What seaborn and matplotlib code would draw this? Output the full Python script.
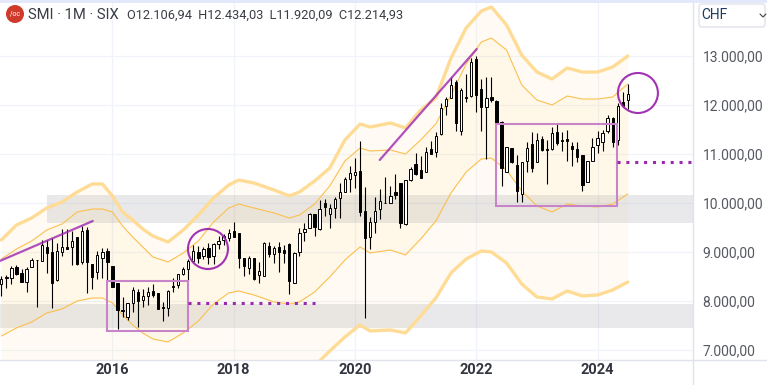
import numpy as np
import pandas as pd
import seaborn as sns
import matplotlib.pyplot as plt
from matplotlib.lines import Line2D
from matplotlib.patches import Circle, Ellipse, FancyBboxPatch, Rectangle

# monthly candles, 2014-03 .. 2024-07
opens = [8347,8462,8462,8700,8564,8381,8700,8836,8823,9095,
         8993,8428,9006,9095,9108,9313,8789,9449,8755,8598,8884,9020,
         8714,8374,7816,7680,7966,8176,8020,8102,8210,8156,7884,7850,
         8306,8326,8551,8653,8823,8993,8925,9074,8925,9163,9252,9293,
         9429,9381,8871,8667,8871,8537,8517,9116,8966,9095,9034,9163,
         8374,9007,9415,9497,9776,9463,9993,9769,9891,10095,10231,10483,
         10572,10646,9837,9299,9605,9871,10007,10007,10218,10402,9565,10470,
         10796,10674,10639,11102,11048,11401,11986,12150,12476,11476,12157,12191,
         12932,12327,11966,12157,12088,11660,10639,11116,10775,10177,10863,11197,
         10843,11299,11102,11095,11449,11285,11299,11156,11102,10972,10435,10863,
         11190,11251,11476,11734,11278,12068,12106.94]
highs = [8510,8530,8714,8727,8646,8700,8884,8836,9244,9244,
         9279,9176,9462,9462,9435,9313,9530,9517,8755,9020,9088,9074,
         8714,8374,8088,7966,8292,8238,8251,8278,8346,8156,7986,8224,
         8462,8544,8700,8857,9142,9122,9108,9190,9190,9327,9367,9470,
         9606,9381,8871,8918,8871,8803,9197,9197,9129,9197,9143,9177,
         9007,9497,9585,9789,9776,10061,10075,9980,10129,10402,10524,10755,
         10912,11265,10320,9708,10129,10279,10524,10347,10585,10402,10463,10728,
         11027,10959,11150,11265,11456,12034,12170,12578,12510,12340,12633,12966,
         13000,12524,12565,12565,12102,11680,11150,11129,10980,10844,11238,11455,
         11435,11367,11285,11557,11605,11455,11489,11251,11238,10979,10863,11319,
         11469,11489,11796,11748,12034,12272,12434.03]
lows = [8108,8258,8347,8530,8394,8190,8700,7884,8823,8578,
        7864,8415,8925,9054,8734,8741,8755,8170,8244,8442,8462,8415,
        8278,7428,7680,7612,7775,7476,7870,7918,8088,7830,7598,7693,
        8190,8272,8530,8428,8789,8768,8857,8755,8755,9054,9143,9225,
        9313,8680,8517,8544,8428,8374,8517,8905,8782,8599,8769,8143,
        8374,8918,9231,9483,9327,9449,9735,9483,9687,9687,10231,10231,
        10300,9735,7660,9055,9395,9667,9993,9993,10089,9497,9551,10456,
        10572,10517,10626,11007,10946,11388,11796,12136,11476,11388,12068,12157,
        11864,11476,10891,12068,11592,10354,10639,10810,10027,10027,10639,10639,
        10829,11068,10387,11081,11183,11061,10857,10761,10829,10244,10435,10863,
        11013,11068,11435,11136,11183,11966,11920.09]
closes = [8449,8483,8666,8551,8394,8646,8836,8836,9142,8972,
          8374,9020,9108,9068,9231,8755,9428,8802,8496,8938,9000,8802,
          8292,7816,7802,7952,8224,8006,8108,8190,8122,7830,7864,8210,
          8292,8544,8646,8816,9013,8870,9054,8904,9156,9231,9320,9381,
          9313,8884,8721,8871,8442,8606,9177,8959,9075,9007,8986,8415,
          8973,9381,9463,9769,9517,9884,9912,9891,10075,10218,10483,10606,
          10626,9823,9293,9619,9837,10041,9993,10143,10170,9585,10463,10687,
          10585,10517,11034,11007,11367,11932,12116,12408,11626,12306,12136,12871,
          12204,11966,12150,12102,11612,10721,11136,10830,10252,10830,11115,10721,
          11285,11081,11088,11421,11217,11272,11265,11108,10945,10367,10857,11136,
          11319,11421,11727,11251,11986,11979,12214.93]

# band curves read at these months (months since 2014-03)
band_month = [0,3,6,9,12,15,18,20,22,24,26,28,30,33,36,39,42,45,47,50,54,57,59,62,65,
              68,71,73,77,80,83,86,89,92,95,97,100,103,106,109,112,115,118,121,124]
upper_outer = [9245,9551,9694,9898,10020,10224,10388,10388,10143,9816,9653,9469,9326,9204,9449,
               9755,10102,10367,10469,10408,10265,10143,10224,10449,10714,11286,11612,11551,11633,11531,
               11898,12143,12959,13572,13918,14000,13633,13020,12673,12531,12755,12673,12673,12776,13000]
upper_inner = [8857,9061,9224,9449,9571,9816,9877,9877,9816,9530,9306,9102,8898,8796,8979,
               9224,9612,9898,9979,9898,9796,9694,9755,9979,10347,10857,11122,11061,11082,11000,
               11286,11612,12204,12837,13286,13367,13122,12408,12102,12000,12184,12122,12122,12163,12429]
lower_inner = [7285,7449,7571,7755,7836,7999,8061,8061,7959,7714,7510,7347,7224,7163,7347,
               7591,7938,8163,8204,8122,7979,7938,7979,8183,8489,8836,9102,8979,9041,8939,
               9265,9632,10204,10632,10898,10918,10673,10245,9939,9816,9979,9939,9918,9979,10184]
lower_outer = [5979,6142,6265,6428,6530,6632,6673,6673,6551,6285,6081,5918,5775,5693,5877,
               6142,6428,6551,6592,6551,6428,6387,6469,6673,6979,7265,7510,7388,7408,7347,
               7694,8061,8571,8857,9020,9000,8775,8347,8081,8041,8204,8102,8122,8224,8387]

# grey zones (price low, price high, first month)
zone_low = [9591, 7449]
zone_high = [10163, 7938]
zone_start = [9.04, -0.3]

# drawings
box_x = [20.9, 97.9]
box_w = [16.0, 23.9]
box_low = [7387, 9939]
box_high = [8408, 11612]
dot_x = [[36.9, 62.0], [121.8, 137.0]]
dot_y = [7959, 10837]
trend_x = [[-0.3, 18.1], [74.9, 94.1]]
trend_y = [[8816, 9632], [10878, 13143]]
circle_x = [40.9, 126.0]
circle_y = [9061, 12245]

yticks = [7000, 8000, 9000, 10000, 11000, 12000, 13000]
ytick_labels = ['7.000,00', '8.000,00', '9.000,00', '10.000,00', '11.000,00', '12.000,00', '13.000,00']
xticks = [22, 46, 70, 94, 118]
xtick_labels = ['2016', '2018', '2020', '2022', '2024']

W, H = 767, 385
sns.set_theme(style='white')
plt.rcParams['font.family'] = ['Roboto', 'DejaVu Sans']
fig = plt.figure(figsize=(W / 100, H / 100), dpi=100)
ax = fig.add_axes([0, 1 - 360 / H, 693 / W, 357 / H])

x = np.arange(len(opens))
up = np.array(closes) >= np.array(opens)
bands = pd.DataFrame({'month': band_month, 'uo': upper_outer, 'ui': upper_inner,
                      'li': lower_inner, 'lo': lower_outer})

ax.set_xlim(-0.26, 136.9)
ax.set_ylim(14143 - 20.41 * 360, 14143 - 20.41 * 3)
ax.set_xticks(xticks, xtick_labels)
ax.set_yticks(yticks, ytick_labels)
ax.grid(True, color='#f0f3fa', lw=0.9, zorder=0)
ax.set_axisbelow(True)

# band fills
ax.fill_between(bands.month, bands.ui, bands.li, color='#ffc548', alpha=0.12, lw=0, zorder=1)
ax.fill_between(bands.month, bands.uo, bands.ui, color='#ffc548', alpha=0.06, lw=0, zorder=1)
ax.fill_between(bands.month, bands.li, bands.lo, color='#ffc548', alpha=0.06, lw=0, zorder=1)

for lo, hi, start in zip(zone_low, zone_high, zone_start):
    ax.add_patch(Rectangle((start, lo), 140, hi - lo, color='#787b86', alpha=0.16, lw=0, zorder=1.5))

for col, width in [('uo', 2.4), ('lo', 2.4), ('ui', 0.8), ('li', 0.8)]:
    sns.lineplot(data=bands, x='month', y=col, ax=ax, estimator=None, sort=False,
                 color='#ffdc96' if width > 1 else '#fbc04f', lw=width, zorder=2)

# candles
ax.vlines(x, lows, highs, color='black', lw=0.8, zorder=3)
body_low = np.minimum(opens, closes)
body_h = np.abs(np.array(closes) - np.array(opens))
ax.bar(x[up], body_h[up], bottom=body_low[up], width=0.46, color='white', edgecolor='black', lw=0.7, zorder=4)
ax.bar(x[~up], body_h[~up], bottom=body_low[~up], width=0.46, color='black', edgecolor='black', lw=0.7, zorder=4)

# drawings on top
for bx, bw, lo, hi in zip(box_x, box_w, box_low, box_high):
    ax.add_patch(Rectangle((bx, lo), bw, hi - lo, fill=False, ec='#c884c8', lw=1.5, zorder=5))
for dx, dy in zip(dot_x, dot_y):
    ax.plot(dx, [dy, dy], color='#9c27b0', lw=2.2, ls=(0, (1, 1.9)), dash_capstyle='butt', zorder=5)
for tx, ty in zip(trend_x, trend_y):
    ax.plot(tx, ty, color='#9c27b0', lw=1.6, alpha=0.8, zorder=5)
for cx, cy in zip(circle_x, circle_y):
    ax.add_patch(Ellipse((cx, cy), 40 / 5.054, 40 * 20.41, fill=False, ec='#9c27b0', lw=1.5, alpha=0.95, zorder=6))

ax.set_xlabel('')
ax.set_ylabel('')
ax.yaxis.tick_right()
ax.tick_params(axis='y', length=0, pad=7, labelsize=10, labelcolor='#555860')
ax.tick_params(axis='x', length=0, pad=2, labelsize=10.5, labelcolor='#333640')
for t in ax.get_xticklabels():
    t.set_fontweight('bold')
for name in ['top', 'left']:
    ax.spines[name].set_visible(False)
ax.spines['right'].set_color('#e0e3eb')
ax.spines['bottom'].set_color('#e0e3eb')
ax.spines['right'].set_linewidth(1)
ax.spines['bottom'].set_linewidth(1)

# chrome around the chart, placed in pixels
def px(xp, yp):
    return xp / W, 1 - yp / H

fig.add_artist(Rectangle((0, 1 - 3 / H), 1, 3 / H, transform=fig.transFigure, color='#e3e9fb', lw=0))
fig.add_artist(Line2D([693 / W, 693 / W], [0, 25 / H], color='#e0e3eb', lw=1))
fig.add_artist(Line2D([693 / W, 1], [25 / H, 25 / H], color='#e0e3eb', lw=1))
fig.add_artist(Circle((15, H - 14), 9, transform=None, color='#d03a2b', lw=0))
fig.text(*px(15, 14), '\u2215oc', color='white', fontsize=5, ha='center', va='center')
fig.text(*px(28, 15), 'SMI · 1M · SIX', fontsize=10.6, color='#3a3d45', va='center')
fig.text(*px(127, 15), 'O12.106,94  H12.434,03  L11.920,09  C12.214,93', fontsize=9.2, color='#3a3d45', va='center')
fig.add_artist(FancyBboxPatch((699, H - 27), 66, 23, boxstyle='round,pad=0,rounding_size=3',
                              transform=None, fc='white', ec='#e0e3eb', lw=1))
fig.text(*px(701, 15), 'CHF', fontsize=10, color='#1d3a5f', va='center')
fig.add_artist(Line2D([760 / W, 763 / W, 766 / W], [1 - 14 / H, 1 - 17 / H, 1 - 14 / H], color='#444', lw=0.8))

fig.savefig('out.png', dpi=100)
